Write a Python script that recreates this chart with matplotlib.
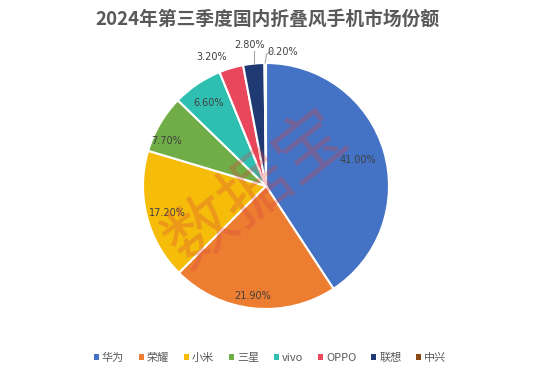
import numpy as np
import matplotlib
matplotlib.use("Agg")
import matplotlib.pyplot as plt
from matplotlib.patches import Patch

plt.rcParams['font.family'] = ['Noto Sans CJK SC', 'DejaVu Sans']

brands = ['华为', '荣耀', '小米', '三星', 'vivo', 'OPPO', '联想', '中兴']
shares = [41.0, 21.9, 17.2, 7.7, 6.6, 3.2, 2.8, 0.2]
labels = ['41.00%', '21.90%', '17.20%', '7.70%', '6.60%', '3.20%', '2.80%', '0.20%']
colors = ['#4472C4', '#ED7D31', '#F5BD0A', '#70AD47', '#2EBFB0', '#E8475C', '#1F3A73', '#8B4A12']
title = '2024年第三季度国内折叠风手机市场份额'

# label placement (radius factor, angle tweak in degrees)
lab_r = [0.78, 0.90, 0.83, 0.89, 0.82, 1.14, 1.15, 1.10]
lab_da = [-0.8, -0.8, 1.2, 6.2, 0.9, 6.2, 0.8, -7.4]

W, H = 540, 377
fig = plt.figure(figsize=(W / 100, H / 100), dpi=100)
cx, cy, R = 266, 186, 123
ax = fig.add_axes([(cx - R) / W, (H - cy - R) / H, 2 * R / W, 2 * R / H])

wedges, _ = ax.pie(shares, colors=colors, startangle=90, counterclock=False,
                   wedgeprops=dict(edgecolor='white', linewidth=1.5))
ax.set_xlim(-1, 1)
ax.set_ylim(-1, 1)
ax.set_aspect('equal')
ax.axis('off')

for i, (w, lab) in enumerate(zip(wedges, labels)):
    mid = np.deg2rad((w.theta1 + w.theta2) / 2 + lab_da[i])
    x, y = lab_r[i] * np.cos(mid), lab_r[i] * np.sin(mid)
    ax.text(x, y, lab, ha='center', va='center', fontsize=7, color='#404040',
            family=['DejaVu Sans'], clip_on=False)

# leader lines for the two thinnest outer slices
for i in [6, 7]:
    w = wedges[i]
    mid = np.deg2rad((w.theta1 + w.theta2) / 2)
    x0, y0 = np.cos(mid), np.sin(mid)
    if i == 6:
        ax.plot([x0, x0], [y0, 1.10], color='#A6A6A6', lw=0.8, clip_on=False)
    else:
        ax.plot([x0, x0 + 0.01, 0.045], [y0, 1.07, 1.10], color='#A6A6A6', lw=0.8, clip_on=False)

fig.text(267.5 / W, 1 - 19 / H, title, ha='center', va='center', fontsize=13.5,
         fontweight='bold', color='#595959')

# watermark
fig.text(257 / W, 1 - 190 / H, '数据宝', ha='center', va='center', fontsize=50,
         rotation=38, color='#D9413F', alpha=0.3, fontweight='normal')

handles = [Patch(facecolor=c, edgecolor='none') for c in colors]
fig.legend(handles, brands, loc='center', bbox_to_anchor=(270 / W, 1 - 358 / H), ncol=8,
           frameon=False, fontsize=8, handlelength=0.45, handleheight=0.45,
           handletextpad=0.3, columnspacing=1.3, labelcolor='#595959')

fig.savefig('out.png', dpi=100)
